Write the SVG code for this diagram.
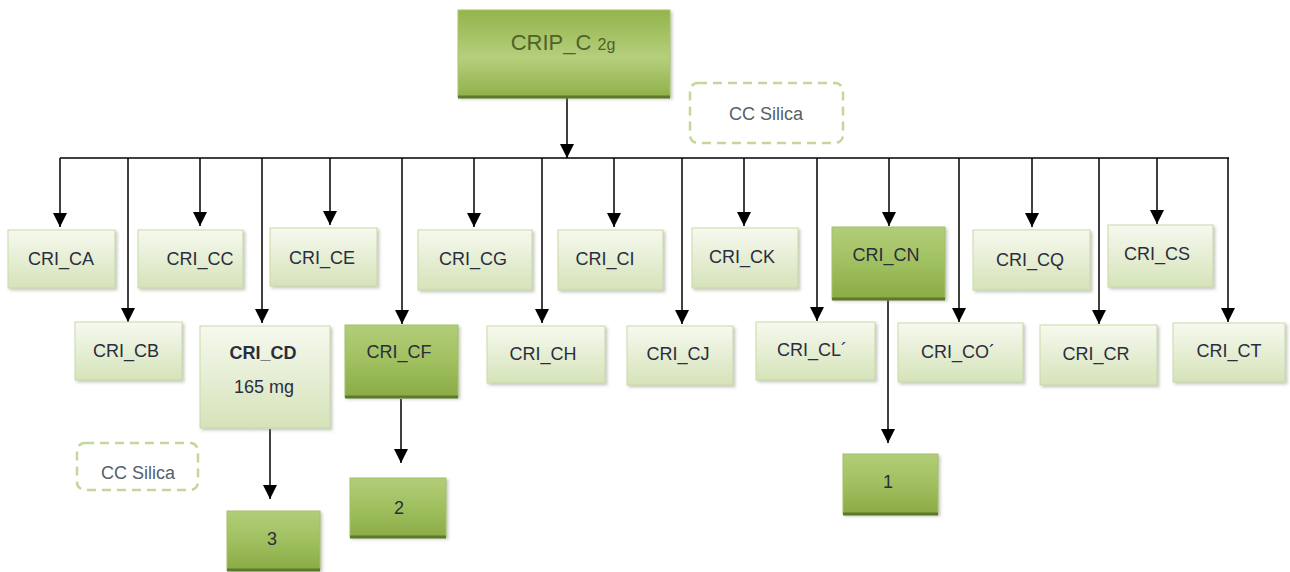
<svg xmlns="http://www.w3.org/2000/svg" width="1290" height="572" viewBox="0 0 1290 572">
<defs>
<linearGradient id="gl" x1="0" y1="0" x2="0" y2="1">
<stop offset="0" stop-color="#f6f9ef"/><stop offset="1" stop-color="#d5e3b9"/>
</linearGradient>
<linearGradient id="gg" x1="0" y1="0" x2="0" y2="1">
<stop offset="0" stop-color="#b2cd78"/><stop offset="0.5" stop-color="#a0c060"/><stop offset="1" stop-color="#8aab45"/>
</linearGradient>
<linearGradient id="gr" x1="0" y1="0" x2="0" y2="1">
<stop offset="0" stop-color="#93b44c"/><stop offset="0.55" stop-color="#b5cf7c"/><stop offset="1" stop-color="#8fb04a"/>
</linearGradient>
<filter id="sh" x="-10%" y="-10%" width="125%" height="130%">
<feDropShadow dx="2" dy="2" stdDeviation="1.5" flood-color="#8a8a7a" flood-opacity="0.45"/>
</filter>
<marker id="ah" markerUnits="userSpaceOnUse" markerWidth="14" markerHeight="14" viewBox="0 0 14 14" refX="14" refY="7" orient="auto">
<path d="M0,0 L14,7 L0,14 Z" fill="#000"/>
</marker>
</defs>
<style>
.l{fill:url(#gl);stroke:#c9d9a7;stroke-width:1;filter:url(#sh)}
.g{fill:url(#gg);stroke:#a3bf6a;stroke-width:1;filter:url(#sh)}
.ge{stroke:#5d7a2a;stroke-width:3}
.t{font-family:"Liberation Sans",Arial,sans-serif;font-size:18px;fill:#2a2d3e;text-anchor:middle}
.d{stroke:#000;stroke-width:1.5;fill:none}
.a{stroke:#000;stroke-width:1.5;fill:none;marker-end:url(#ah)}
.cc{fill:#fff;stroke:#c3d69b;stroke-width:2.5;stroke-dasharray:9 6}
.ct{font-family:"Liberation Sans",Arial,sans-serif;font-size:18px;fill:#55606a;text-anchor:middle}
</style>

<g id="connectors">
<line class="a" x1="567" y1="97" x2="567" y2="158"/>
<line class="d" x1="60" y1="158" x2="1229" y2="158"/>
<line class="a" x1="60" y1="158" x2="60" y2="227"/>
<line class="a" x1="128" y1="158" x2="128" y2="322"/>
<line class="a" x1="200" y1="158" x2="200" y2="226"/>
<line class="a" x1="262" y1="158" x2="262" y2="323"/>
<line class="a" x1="330" y1="158" x2="330" y2="225"/>
<line class="a" x1="402" y1="158" x2="402" y2="324"/>
<line class="a" x1="474" y1="158" x2="474" y2="227"/>
<line class="a" x1="542" y1="158" x2="542" y2="323"/>
<line class="a" x1="614" y1="158" x2="614" y2="227"/>
<line class="a" x1="682" y1="158" x2="682" y2="324"/>
<line class="a" x1="744" y1="158" x2="744" y2="226"/>
<line class="a" x1="817" y1="158" x2="817" y2="321"/>
<line class="a" x1="889" y1="158" x2="889" y2="226"/>
<line class="a" x1="959" y1="158" x2="959" y2="322"/>
<line class="a" x1="1032" y1="158" x2="1032" y2="227"/>
<line class="a" x1="1099" y1="158" x2="1099" y2="324"/>
<line class="a" x1="1157" y1="158" x2="1157" y2="224"/>
<line class="a" x1="1228" y1="158" x2="1228" y2="322"/>
<line class="a" x1="270" y1="429" x2="270" y2="499"/>
<line class="a" x1="401" y1="399" x2="401" y2="463"/>
<line class="a" x1="888" y1="300" x2="888" y2="443"/>
</g>

<g id="root">
<rect x="458" y="10" width="212" height="87" fill="url(#gr)" stroke="#a9c46f" stroke-width="1" filter="url(#sh)"/>
<line class="ge" x1="458" y1="97" x2="670" y2="97"/>
<text x="563" y="50" font-family="Liberation Sans,Arial,sans-serif" text-anchor="middle" fill="#4f6228"><tspan font-size="22">CRIP_C </tspan><tspan font-size="16">2g</tspan></text>
</g>

<g id="silica-top">
<rect class="cc" x="690" y="83" width="153" height="60" rx="8"/>
<text class="ct" x="766" y="120">CC Silica</text>
</g>

<g id="CA"><rect class="l" x="8" y="230" width="107" height="58"/><text class="t" x="61" y="265">CRI_CA</text></g>
<g id="CC"><rect class="l" x="138" y="230" width="105" height="58"/><text class="t" x="200" y="265">CRI_CC</text></g>
<g id="CE"><rect class="l" x="270" y="228" width="107" height="58"/><text class="t" x="322" y="264">CRI_CE</text></g>
<g id="CG"><rect class="l" x="418" y="230" width="114" height="60"/><text class="t" x="473" y="265">CRI_CG</text></g>
<g id="CI"><rect class="l" x="558" y="230" width="105" height="60"/><text class="t" x="605" y="265">CRI_CI</text></g>
<g id="CK"><rect class="l" x="692" y="228" width="106" height="60"/><text class="t" x="742" y="263">CRI_CK</text></g>
<g id="CN"><rect class="g" x="832" y="227" width="113" height="72"/><line class="ge" x1="832" y1="299" x2="945" y2="299"/><text class="t" x="886" y="261">CRI_CN</text></g>
<g id="CQ"><rect class="l" x="973" y="230" width="117" height="60"/><text class="t" x="1030" y="266">CRI_CQ</text></g>
<g id="CS"><rect class="l" x="1108" y="225" width="105" height="62"/><text class="t" x="1157" y="260">CRI_CS</text></g>

<g id="CB"><rect class="l" x="75" y="322" width="107" height="58"/><text class="t" x="126" y="357">CRI_CB</text></g>
<g id="CD"><rect class="l" x="200" y="326" width="130" height="102"/><text class="t" x="263" y="359" font-weight="bold">CRI_CD</text><text class="t" x="264" y="393">165 mg</text></g>
<g id="CF"><rect class="g" x="345" y="325" width="113" height="72"/><line class="ge" x1="345" y1="397" x2="458" y2="397"/><text class="t" x="399" y="358">CRI_CF</text></g>
<g id="CH"><rect class="l" x="487" y="326" width="118" height="57"/><text class="t" x="543" y="360">CRI_CH</text></g>
<g id="CJ"><rect class="l" x="627" y="326" width="106" height="59"/><text class="t" x="678" y="360">CRI_CJ</text></g>
<g id="CL"><rect class="l" x="756" y="322" width="119" height="58"/><text class="t" x="812" y="356">CRI_CL´</text></g>
<g id="CO"><rect class="l" x="898" y="323" width="125" height="59"/><text class="t" x="958" y="358">CRI_CO´</text></g>
<g id="CR"><rect class="l" x="1040" y="325" width="117" height="60"/><text class="t" x="1096" y="360">CRI_CR</text></g>
<g id="CT"><rect class="l" x="1173" y="323" width="112" height="59"/><text class="t" x="1229" y="357">CRI_CT</text></g>

<g id="silica-bottom">
<rect class="cc" x="77" y="443" width="121" height="47" rx="8"/>
<text class="ct" x="138" y="479">CC Silica</text>
</g>

<g id="n3"><rect class="g" x="227" y="511" width="93" height="59"/><line class="ge" x1="227" y1="570" x2="320" y2="570"/><text class="t" x="272" y="545">3</text></g>
<g id="n2"><rect class="g" x="350" y="478" width="96" height="59"/><line class="ge" x1="350" y1="537" x2="446" y2="537"/><text class="t" x="399" y="514">2</text></g>
<g id="n1"><rect class="g" x="843" y="454" width="95" height="60"/><line class="ge" x1="843" y1="514" x2="938" y2="514"/><text class="t" x="888" y="488">1</text></g>
</svg>
